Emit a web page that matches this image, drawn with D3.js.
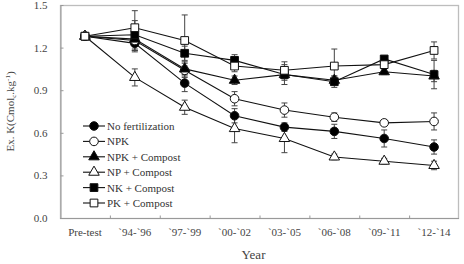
<!DOCTYPE html>
<html>
<head>
<meta charset="utf-8">
<script src="https://cdn.jsdelivr.net/npm/d3@7"></script>
<style>
  body { margin: 0; background: #fff; }
  svg text { font-family: "Liberation Serif", "Times New Roman", serif !important; }
</style>
</head>
<body>
<svg id="chart" width="464" height="264"></svg>
<script>
// x categories
const periods = ["Pre-test", "`94-`96", "`97-`99", "`00-`02", "`03-`05", "`06-`08", "`09-`11", "`12-`14"];
const yTicks = [0.0, 0.3, 0.6, 0.9, 1.2, 1.5];

// series names (legend order)
const seriesNames = ["No fertilization", "NPK", "NPK + Compost", "NP + Compost", "NK + Compost", "PK + Compost"];

// means per period
const noFert   = [1.28, 1.23, 0.95, 0.72, 0.64, 0.61, 0.56, 0.50];
const npk      = [1.28, 1.25, 1.04, 0.84, 0.76, 0.71, 0.67, 0.68];
const npkComp  = [1.28, 1.26, 1.05, 0.97, 1.01, 0.97, 1.03, 1.00];
const npComp   = [1.28, 0.99, 0.78, 0.63, 0.56, 0.43, 0.40, 0.37];
const nkComp   = [1.28, 1.29, 1.16, 1.11, 1.01, 0.96, 1.12, 1.01];
const pkComp   = [1.28, 1.34, 1.25, 1.07, 1.04, 1.07, 1.08, 1.18];

// error bars (±)
const noFertErr  = [0, 0.06, 0.06, 0.05, 0.03, 0.05, 0.06, 0.05];
const npkErr     = [0, 0.07, 0.05, 0.05, 0.05, 0.03, 0.02, 0.06];
const npkCompErr = [0, 0.08, 0.05, 0.03, 0.04, 0.03, 0.02, 0.04];
const npCompErr  = [0, 0.06, 0.05, 0.10, 0.10, 0.02, 0.02, 0.03];
const nkCompErr  = [0, 0.10, 0.05, 0.04, 0.07, 0.04, 0.02, 0.10];
const pkCompErr  = [0, 0.12, 0.18, 0.04, 0.06, 0.12, 0.02, 0.06];

const series = [
  {name: seriesNames[0], values: noFert,  err: noFertErr,  shape: "circle",   fill: "#000"},
  {name: seriesNames[1], values: npk,     err: npkErr,     shape: "circle",   fill: "#fff"},
  {name: seriesNames[2], values: npkComp, err: npkCompErr, shape: "triangle", fill: "#000"},
  {name: seriesNames[3], values: npComp,  err: npCompErr,  shape: "triangle", fill: "#fff"},
  {name: seriesNames[4], values: nkComp,  err: nkCompErr,  shape: "square",   fill: "#000"},
  {name: seriesNames[5], values: pkComp,  err: pkCompErr,  shape: "square",   fill: "#fff"}
];

const svg = d3.select("#chart");
const margin = {left: 60, top: 5, right: 5, bottom: 46};
const W = 464, H = 264;
const plotW = W - margin.left - margin.right;
const plotH = H - margin.top - margin.bottom;

const x = d3.scaleBand().domain(periods).range([margin.left, margin.left + plotW]);
const y = d3.scaleLinear().domain([0, 1.5]).range([margin.top + plotH, margin.top]);

const symbolSize = {circle: 58, triangle: 48, square: 60};
const symType = {circle: d3.symbolCircle, triangle: d3.symbolTriangle, square: d3.symbolSquare};
const sym = s => d3.symbol().type(symType[s]).size(symbolSize[s])();

// frame
svg.append("rect")
  .attr("x", margin.left + 0.5).attr("y", margin.top + 0.5)
  .attr("width", plotW - 1).attr("height", plotH)
  .attr("fill", "none").attr("stroke", "#bdbdbd").attr("stroke-width", 1.3);

// y axis
const yAxis = svg.append("g")
  .attr("transform", `translate(${margin.left + 0.5},0)`)
  .call(d3.axisLeft(y).tickValues(yTicks).tickFormat(d3.format(".1f")).tickSizeInner(-3).tickSizeOuter(0).tickPadding(13));
yAxis.select(".domain").attr("stroke", "#999");
yAxis.selectAll(".tick line").attr("stroke", "#999");
yAxis.selectAll("text").attr("font-size", 11).attr("fill", "#444");

// x axis (ticks at band boundaries)
const xAxis = svg.append("g")
  .attr("transform", `translate(0,${margin.top + plotH + 0.5})`);
xAxis.append("line")
  .attr("x1", margin.left).attr("x2", margin.left + plotW)
  .attr("stroke", "#999");
xAxis.selectAll(".bt")
  .data(periods.slice(1))
  .join("line")
  .attr("x1", d => x(d) + 0.5).attr("x2", d => x(d) + 0.5)
  .attr("y1", 0).attr("y2", -3)
  .attr("stroke", "#999");
xAxis.selectAll(".lbl")
  .data(periods)
  .join("text")
  .attr("x", d => x(d) + x.bandwidth() / 2)
  .attr("y", 17)
  .attr("text-anchor", "middle")
  .attr("font-size", 11)
  .attr("fill", "#444")
  .text(d => d);

// axis titles
svg.append("text")
  .attr("x", margin.left + plotW / 2 - 6).attr("y", 259)
  .attr("text-anchor", "middle").attr("font-size", 13).attr("fill", "#444")
  .text("Year");

const yt = svg.append("text")
  .attr("transform", `translate(14,${margin.top + plotH / 2}) rotate(-90)`)
  .attr("text-anchor", "middle").attr("font-size", 11).attr("fill", "#444");
yt.append("tspan").text("Ex. K(Cmol");
yt.append("tspan").attr("font-size", 7).attr("dy", 2).text("c");
yt.append("tspan").attr("dy", -2).text(".kg");
yt.append("tspan").attr("font-size", 7).attr("dy", -4).text("-1");
yt.append("tspan").attr("dy", 4).text(")");

const cx = i => x(periods[i]) + x.bandwidth() / 2;
const line = d3.line().x((d, i) => cx(i)).y(d => y(d));

// error bars
series.forEach(s => {
  const g = svg.append("g").attr("stroke", "#444").attr("stroke-width", 1);
  s.values.forEach((v, i) => {
    const e = s.err[i];
    if (!e) return;
    g.append("line").attr("x1", cx(i)).attr("x2", cx(i)).attr("y1", y(v - e)).attr("y2", y(v + e));
    [v - e, v + e].forEach(t => {
      g.append("line").attr("x1", cx(i) - 3).attr("x2", cx(i) + 3).attr("y1", y(t)).attr("y2", y(t));
    });
  });
});

// lines + markers
series.forEach(s => {
  svg.append("path")
    .attr("d", line(s.values))
    .attr("fill", "none").attr("stroke", "#111").attr("stroke-width", 1.1);
});
series.forEach(s => {
  svg.selectAll(null)
    .data(s.values)
    .join("path")
    .attr("transform", (d, i) => `translate(${cx(i)},${y(d)})`)
    .attr("d", sym(s.shape))
    .attr("fill", s.fill).attr("stroke", "#111").attr("stroke-width", 1);
});

// legend
const lg = svg.append("g").attr("transform", "translate(83,126)");
series.forEach((s, i) => {
  const row = lg.append("g").attr("transform", `translate(0,${i * 15.4})`);
  row.append("line").attr("x1", 0).attr("x2", 22).attr("stroke", "#111").attr("stroke-width", 1.1);
  row.append("path").attr("transform", "translate(11,0)").attr("d", sym(s.shape))
    .attr("fill", s.fill).attr("stroke", "#111");
  row.append("text").attr("x", 24).attr("y", 4).attr("font-size", 11).attr("fill", "#333").text(s.name);
});
</script>
</body>
</html>
